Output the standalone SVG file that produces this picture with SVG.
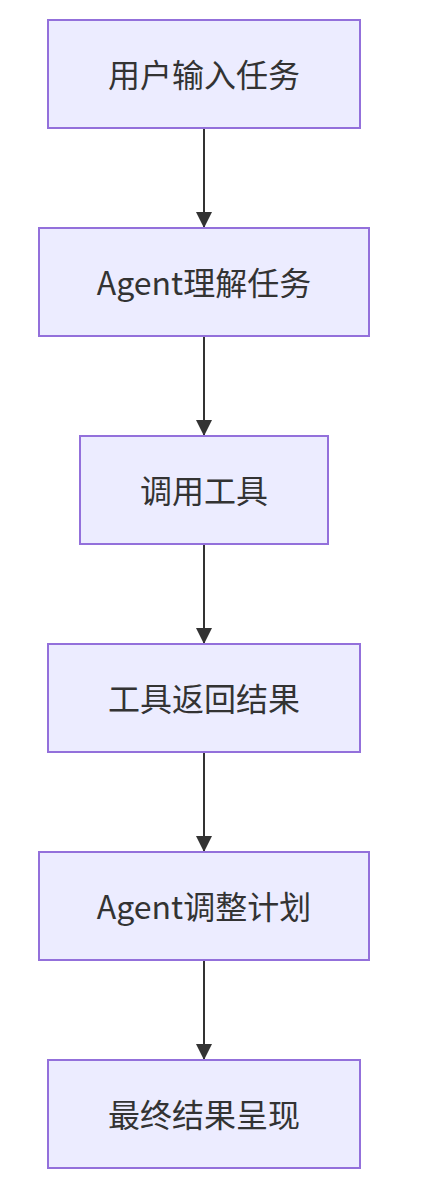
<svg xmlns="http://www.w3.org/2000/svg" width="424" height="1188" viewBox="0 0 424 1188">
<defs>
<style>
.n rect{fill:#ECECFF;stroke:#9370DB;stroke-width:2}
.n text{font-family:"Noto Sans CJK SC","Noto Sans",sans-serif;font-size:32px;fill:#333333;text-anchor:middle;dominant-baseline:central}
.e path{stroke:#333333;stroke-width:2;fill:none;marker-end:url(#arrh)}
</style>
<marker id="arrh" viewBox="0 0 16 16" refX="16" refY="8" markerWidth="16" markerHeight="16" markerUnits="userSpaceOnUse" orient="auto">
<path d="M0,0 L16,8 L0,16 z" fill="#333333"/>
</marker>
</defs>
<g id="edges" class="e">
<path d="M204,128 V228"/>
<path d="M204,336 V436"/>
<path d="M204,544 V644"/>
<path d="M204,752 V852"/>
<path d="M204,960 V1060"/>
</g>
<g id="n1" class="n"><rect x="48" y="20" width="312" height="108"/><text x="204" y="73">用户输入任务</text></g>
<g id="n2" class="n"><rect x="39" y="228" width="330" height="108"/><text x="204" y="281">Agent理解任务</text></g>
<g id="n3" class="n"><rect x="80" y="436" width="248" height="108"/><text x="204" y="489">调用工具</text></g>
<g id="n4" class="n"><rect x="48" y="644" width="312" height="108"/><text x="204" y="697">工具返回结果</text></g>
<g id="n5" class="n"><rect x="39" y="852" width="330" height="108"/><text x="204" y="905">Agent调整计划</text></g>
<g id="n6" class="n"><rect x="48" y="1060" width="312" height="108"/><text x="204" y="1113">最终结果呈现</text></g>
</svg>
